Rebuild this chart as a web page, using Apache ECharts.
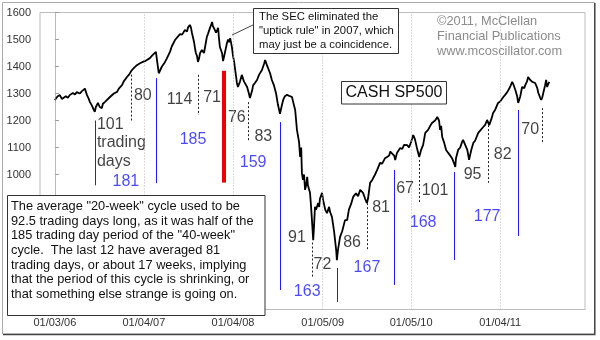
<!DOCTYPE html>
<html>
<head>
<meta charset="utf-8">
<script src="https://cdn.jsdelivr.net/npm/echarts@6/dist/echarts.min.js"></script>
<style>
html,body{margin:0;padding:0;background:#fff;}
#chart{width:600px;height:340px;}
</style>
</head>
<body>
<div id="chart"></div>
<script>
// ---- DATA ----
// trading-day index (0 = 01/03/06) and S&P 500 close
const days = [0,8,14,20,23,31,37,42,51,57,62,71,76,85,88,91,96,99,105,110,113,116,122,127,133,136,142,147,156,161,167,176,181,190,195,204,210,218,224,232,241,249,258,263,269,275,280,286,289,292,294,297,303,306,311,317,326,331,340,345,354,360,368,374,377,382,385,388,394,396,399,402,405,408,411,416,422,430,433,439,445,447,453,456,462,464,467,473,476,481,487,490,493,496,501,504,507,513,515,518,524,529,535,538,544,549,552,558,561,566,572,578,586,592,595,600,603,609,614,620,626,631,637,643,646,651,657,660,665,671,674,680,682,685,691,694,697,699,702,705,708,711,714,716,722,725,728,731,733,736,739,745,748,750,756,759,765,770,776,779,784,790,796,798,801,807,813,821,827,832,838,844,852,858,864,869,872,878,883,886,892,898,906,912,920,926,934,940,946,949,954,960,963,968,977,983,988,997,1002,1008,1014,1019,1025,1031,1036,1042,1048,1056,1062,1067,1076,1082,1087,1090,1093,1096,1101,1107,1113,1118,1124,1130,1133,1135,1141,1147,1152,1155,1161,1167,1172,1178,1184,1189,1198,1203,1212,1218,1223,1229,1235,1240,1246,1254,1260,1269,1274,1280,1288,1294,1297,1303,1308,1311,1317,1322,1328,1331,1336,1339,1345,1351,1356,1359,1365,1368,1373,1376,1379,1382,1387,1390,1393,1396,1399];
const closes = [1276,1290,1294,1280,1276,1290,1284,1294,1302,1296,1305,1300,1308,1318,1325,1294,1280,1269,1255,1240,1232,1250,1265,1250,1246,1262,1269,1262,1287,1290,1300,1306,1318,1331,1345,1361,1370,1387,1395,1405,1412,1417,1422,1420,1431,1440,1445,1454,1424,1395,1375,1380,1400,1395,1415,1430,1455,1475,1498,1505,1520,1518,1535,1530,1545,1554,1545,1524,1490,1472,1450,1440,1417,1430,1450,1461,1450,1509,1520,1543,1565,1550,1535,1525,1543,1510,1472,1450,1420,1450,1487,1500,1490,1505,1472,1440,1420,1361,1340,1324,1345,1369,1345,1350,1324,1300,1283,1310,1330,1339,1350,1370,1387,1410,1424,1405,1400,1375,1350,1330,1300,1260,1225,1260,1276,1290,1295,1302,1290,1287,1270,1239,1210,1165,1120,1065,1100,1006,980,1000,943,960,991,960,932,880,820,757,800,880,870,894,880,910,932,906,870,857,880,860,843,790,720,683,720,769,790,831,831,870,890,917,930,920,943,940,932,910,894,910,969,980,1000,1017,1043,1040,1060,1065,1070,1085,1091,1070,1054,1080,1098,1095,1110,1109,1100,1120,1146,1130,1095,1065,1090,1110,1154,1165,1180,1191,1200,1213,1200,1165,1180,1139,1120,1091,1080,1080,1060,1040,1028,1060,1091,1100,1120,1128,1110,1091,1054,1090,1117,1125,1154,1160,1176,1185,1202,1183,1205,1228,1240,1265,1270,1287,1295,1305,1324,1343,1335,1313,1290,1265,1290,1324,1320,1331,1345,1361,1350,1343,1345,1339,1320,1302,1285,1276,1285,1302,1330,1350,1324,1335,1343];

const xTickDays = [0, 252, 504, 758, 1008, 1260];
const xTickLabels = ['01/03/06', '01/04/07', '01/04/08', '01/05/09', '01/05/10', '01/04/11'];

// cycle marker lines: [trading day, from value, to value]
const cycle40Lines = [[115,1200,960],[287,1357,968],[637,1194,572],[798,654,528],[961,1017,591],[1130,1009,683],[1311,1239,772]];
const cycle20Lines = [[217,1370,1200],[406,1369,1220],[547,1268,1120],[728,748,617],[885,894,717],[1031,1054,894],[1227,1183,969],[1379,1246,1120]];
const uptickLine = [479, 1384, 970];

// cycle length labels: [text, trading day, value]
const blackLabels = [['80',249,1291],['114',353,1276],['71',445,1283],['76',515,1209],['83',590,1139],['91',685,765],['72',757,665],['86',841,747],['81',923,876],['67',991,946],['101',1076,940],['95',1182,998],['82',1267,1075],['70',1345,1167]];
const firstLabel = ['101\ntrading\ndays', 119, 1117];
const blueLabels = [['181',201,973],['185',391,1128],['159',561,1043],['163',714,566],['167',883,657],['168',1042,822],['177',1223,844]];

const secNote = ['The SEC eliminated the', '"uptick rule" in 2007, which', 'may just be a coincidence.'];
const copyright = ['\u00a92011, McClellan', 'Financial Publications', 'www.mcoscillator.com'];
const mainNote = [
  'The average "20-week" cycle used to be',
  '92.5 trading days long, as it was half of the',
  '185 trading day period of the "40-week"',
  'cycle.  The last 12 have averaged 81',
  'trading days, or about 17 weeks, implying',
  'that the period of this cycle is shrinking, or',
  'that something else strange is going on.'
];
const chartTitle = 'CASH SP500';

// ---- CHART ----
const FONT = '"Liberation Sans", Arial, sans-serif';
const BLUE = '#1c1cff';
const chart = echarts.init(document.getElementById('chart'), null, {renderer: 'canvas'});

function vLine(l, style) {
  return [{coord: [l[0], l[1]], lineStyle: style}, {coord: [l[0], l[2]]}];
}
const markLines = []
  .concat(cycle40Lines.map(l => vLine(l, {color: BLUE, width: 1, type: 'solid'})))
  .concat(cycle20Lines.map(l => vLine(l, {color: '#222', width: 1, type: [2, 2]})))
  .concat([vLine(uptickLine, {color: '#ee0000', width: 4, type: 'solid'})]);

function lbl(item, color, extra) {
  return {
    name: item[0], value: [item[1], item[2]],
    label: Object.assign({show: true, position: 'inside', formatter: '{b}', color: color,
      fontSize: 16, fontFamily: FONT, align: 'center', verticalAlign: 'middle'}, extra || {})
  };
}
const labelData = blackLabels.map(l => lbl(l, '#111'))
  .concat(blueLabels.map(l => lbl(l, BLUE)))
  .concat([lbl(firstLabel, '#111', {align: 'left', lineHeight: 18.5})]);

const graphics = [];
// outer frame
graphics.push({type: 'rect', z: 100, shape: {x: 2.5, y: 2.5, width: 592, height: 331.5}, style: {fill: null, stroke: '#aaa', lineWidth: 1}});
graphics.push({type: 'polyline', z: 101, shape: {points: [[3, 334.5], [594.8, 334.5], [594.8, 3]]}, style: {fill: null, stroke: '#444', lineWidth: 1.5}});
// SEC note
graphics.push({type: 'line', z: 100, shape: {x1: 253, y1: 25, x2: 232, y2: 35}, style: {stroke: '#444', lineWidth: 1}});
graphics.push({type: 'rect', z: 100, shape: {x: 253.5, y: 8.5, width: 145, height: 45}, style: {fill: '#fff', stroke: '#333', lineWidth: 1}});
secNote.forEach((t, i) => graphics.push({type: 'text', z: 101, x: 259, y: 16.8 + i * 13.8,
  style: {text: t, font: '11.3px ' + FONT, fill: '#111', verticalAlign: 'middle', align: 'left'}}));
// copyright
copyright.forEach((t, i) => graphics.push({type: 'text', z: 101, x: 437, y: 21.7 + i * 14.7,
  style: {text: t, font: '12.8px ' + FONT, fill: '#8c8c8c', verticalAlign: 'middle', align: 'left'}}));
// title box
graphics.push({type: 'rect', z: 100, shape: {x: 341.5, y: 81.5, width: 105, height: 22.5}, style: {fill: '#fff', stroke: '#333', lineWidth: 1}});
graphics.push({type: 'text', z: 101, x: 394, y: 93,
  style: {text: chartTitle, font: '16px ' + FONT, fill: '#111', verticalAlign: 'middle', align: 'center'}});
// main note
graphics.push({type: 'rect', z: 100, shape: {x: 7.5, y: 195.5, width: 257.5, height: 120}, style: {fill: '#fff', stroke: '#333', lineWidth: 1}});
mainNote.forEach((t, i) => graphics.push({type: 'text', z: 101, x: 11, y: 206.7 + i * 14.6,
  style: {text: t, font: '12.8px ' + FONT, fill: '#111', verticalAlign: 'middle', align: 'left'}}));

chart.setOption({
  animation: false,
  backgroundColor: '#fff',
  grid: {left: 40, right: 15, top: 12.5, bottom: 30.5, show: true, borderColor: '#bdbdbd', borderWidth: 1, containLabel: false},
  xAxis: {
    type: 'value', min: -42, max: 1500,
    axisLine: {show: true, lineStyle: {color: '#bdbdbd'}},
    axisTick: {show: false, customValues: xTickDays},
    splitLine: {show: false},
    axisLabel: {customValues: xTickDays, fontSize: 11, fontFamily: FONT, color: '#333', margin: 8,
      formatter: v => { const i = xTickDays.indexOf(v); return i >= 0 ? xTickLabels[i] : ''; }}
  },
  yAxis: {
    type: 'value', min: 500, max: 1600, interval: 100,
    axisLine: {show: true, lineStyle: {color: '#bdbdbd'}},
    axisTick: {show: true, inside: true, length: 4, lineStyle: {color: '#999'}},
    splitLine: {show: false},
    axisLabel: {fontSize: 11, fontFamily: FONT, color: '#333', margin: 9,
      formatter: v => v >= 1000 ? String(v) : ''}
  },
  series: [
    {
      type: 'line', z: 1, data: [], symbol: 'none', silent: true,
      markLine: {silent: true, symbol: 'none', label: {show: false},
        lineStyle: {color: '#b4b4b4', type: [1, 2], width: 1},
        data: xTickDays.map(d => ({xAxis: d}))}
    },
    {
      type: 'line', z: 3, showSymbol: false, symbol: 'none',
      data: days.map((d, i) => [d, closes[i]]),
      lineStyle: {color: '#000', width: 1.8}
    },
    {
      type: 'scatter', z: 4, symbolSize: 0, silent: true,
      data: labelData,
      markLine: {silent: true, symbol: 'none', label: {show: false}, data: markLines}
    }
  ],
  graphic: graphics
});
</script>
</body>
</html>
